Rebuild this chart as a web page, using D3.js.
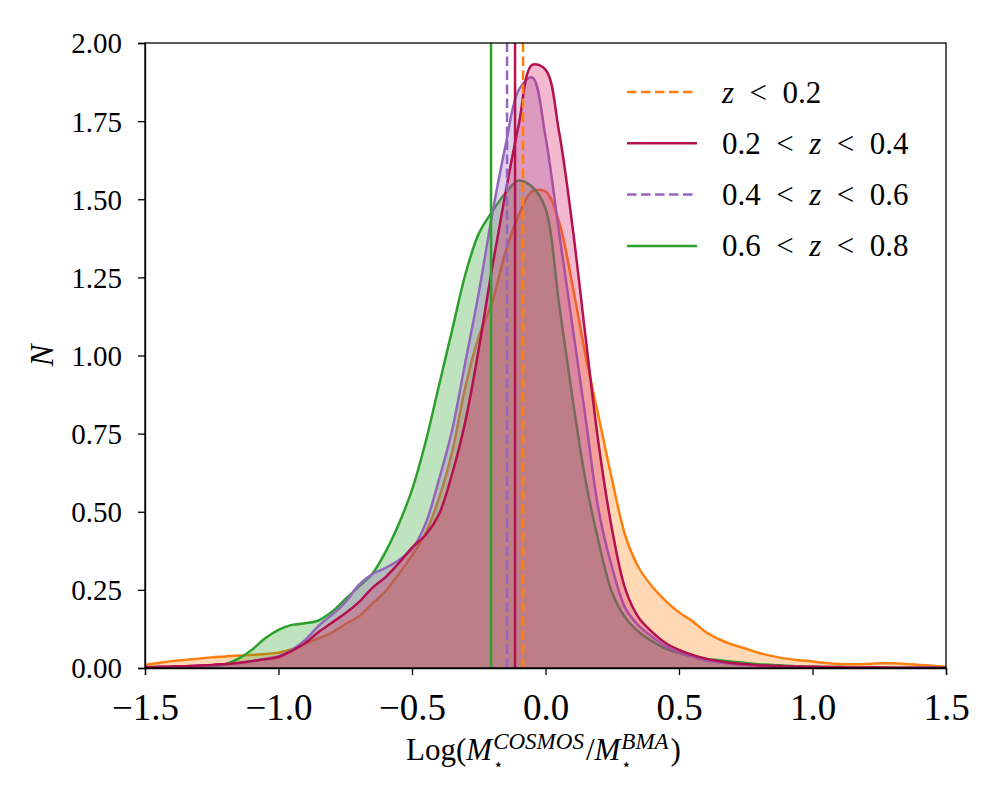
<!DOCTYPE html>
<html>
<head>
	<meta charset="utf-8">
	<title>KDE stellar mass comparison</title>
	<style type="text/css">
	body{ margin:0; background:#fff; }
	text{ font-family:"Liberation Serif", "DejaVu Serif", serif; fill:#000; }
	.domain{ stroke:#000; stroke-width:1.3; }
	.tick line{ stroke:#000; stroke-width:1.3; }
	</style>
	<script type="text/javascript" src="https://cdn.jsdelivr.net/npm/d3@7/dist/d3.min.js"></script>
</head>
<body>
<script type="text/javascript">
	var width = 1000, height = 800;
	var margin = {top:43, right:54, bottom:132, left:145};

	// shared x grid of the density curves
	var xGrid = d3.range(61).map(function(i){ return +(-1.5 + i*0.05).toFixed(2); });

	// density values, one per xGrid point
	var nLow = [0.010,0.016,0.022,0.026,0.030,0.034,0.037,0.040,0.042,0.045,
		0.049,0.060,0.077,0.095,0.113,0.140,0.165,0.205,0.245,0.300,
		0.360,0.430,0.540,0.690,0.900,1.060,1.170,1.330,1.450,1.525,
		1.525,1.430,1.230,1.000,0.800,0.600,0.420,0.320,0.260,0.215,
		0.178,0.150,0.115,0.092,0.075,0.062,0.048,0.038,0.030,0.025,
		0.021,0.016,0.013,0.012,0.013,0.015,0.015,0.013,0.010,0.007,0.004];
	var nMid1 = [0.003,0.004,0.005,0.006,0.008,0.010,0.013,0.016,0.022,0.028,
		0.035,0.055,0.080,0.115,0.145,0.175,0.210,0.255,0.290,0.335,
		0.385,0.425,0.490,0.620,0.790,1.020,1.280,1.520,1.740,1.930,
		1.915,1.720,1.420,1.060,0.710,0.440,0.250,0.160,0.115,0.080,
		0.058,0.042,0.030,0.022,0.016,0.012,0.009,0.007,0.006,0.005,
		0.004,0.003,0.003,0.002,0.002,0.002,0.001,0.001,0.001,0.001,0.001];
	var nMid2 = [0.002,0.003,0.004,0.005,0.007,0.009,0.012,0.016,0.022,0.030,
		0.038,0.058,0.090,0.135,0.170,0.210,0.265,0.300,0.320,0.345,
		0.380,0.460,0.600,0.760,0.980,1.200,1.450,1.670,1.850,1.890,
		1.700,1.400,1.100,0.800,0.500,0.320,0.190,0.135,0.100,0.070,
		0.050,0.036,0.025,0.018,0.013,0.010,0.008,0.006,0.005,0.004,
		0.003,0.003,0.002,0.002,0.002,0.001,0.001,0.001,0.001,0.001,0.001];
	var nHigh = [0.001,0.001,0.002,0.003,0.004,0.006,0.012,0.030,0.058,0.095,
		0.122,0.138,0.143,0.152,0.180,0.220,0.260,0.300,0.370,0.460,
		0.570,0.720,0.900,1.080,1.260,1.390,1.460,1.520,1.560,1.540,
		1.470,1.170,0.870,0.600,0.400,0.240,0.160,0.115,0.085,0.062,
		0.048,0.038,0.030,0.025,0.020,0.016,0.012,0.010,0.007,0.005,
		0.004,0.003,0.003,0.002,0.002,0.001,0.001,0.001,0.001,0.001,0.001];

	// vertical marker positions (median of each bin)
	var medians = [-0.084, -0.114, -0.144, -0.204];
	var labels = ["z < 0.2", "0.2 < z < 0.4", "0.4 < z < 0.6", "0.6 < z < 0.8"];

	var series = [
		{name:labels[0], values:nLow,  med:medians[0], line:"#ff7f0e", fill:"#ff7f0e", dash:true},
		{name:labels[1], values:nMid1, med:medians[1], line:"#b3124f", fill:"#d81b60", dash:false},
		{name:labels[2], values:nMid2, med:medians[2], line:"#9467bd", fill:"#9467bd", dash:true},
		{name:labels[3], values:nHigh, med:medians[3], line:"#2ca02c", fill:"#2ca02c", dash:false}
	];
	var drawOrder = [0, 3, 2, 1];

	var svg = d3.select("body").append("svg")
		.attr("width", width).attr("height", height);

	var w = width - margin.left - margin.right,
		h = height - margin.top - margin.bottom;

	var x = d3.scaleLinear().domain([-1.5, 1.5]).range([0, w]);
	var y = d3.scaleLinear().domain([0, 2]).range([h, 0]);

	var g = svg.append("g")
		.attr("transform", "translate(" + margin.left + "," + margin.top + ")");

	var area = d3.area()
		.x(function(d){ return x(d[0]); })
		.y0(y(0))
		.y1(function(d){ return y(d[1]); })
		.curve(d3.curveCatmullRom.alpha(0.5));
	var line = d3.line()
		.x(function(d){ return x(d[0]); })
		.y(function(d){ return y(d[1]); })
		.curve(d3.curveCatmullRom.alpha(0.5));

	var plot = g.append("g");
	drawOrder.forEach(function(k){
		var s = series[k];
		var pts = xGrid.map(function(v, i){ return [v, s.values[i]]; });
		plot.append("path").attr("d", area(pts))
			.style("fill", s.fill).style("fill-opacity", 0.3);
		plot.append("path").attr("d", line(pts))
			.style("fill", "none").style("stroke", s.line).style("stroke-width", 2.5);
	});

	// median lines
	g.append("g").selectAll("line")
		.data(series)
		.enter().append("line")
		.attr("x1", function(d){ return x(d.med); })
		.attr("x2", function(d){ return x(d.med); })
		.attr("y1", y(0)).attr("y2", y(2))
		.style("stroke", function(d){ return d.line; })
		.style("stroke-width", 2.5)
		.style("stroke-dasharray", function(d){ return d.dash ? "9.5,4.5" : null; });

	// frame
	g.append("rect").attr("width", w).attr("height", h)
		.style("fill", "none").style("stroke", "#000").style("stroke-width", 1.3);

	// axes
	var xAxis = g.append("g").attr("transform", "translate(0," + h + ")")
		.call(d3.axisBottom(x).tickValues([-1.5, -1, -0.5, 0, 0.5, 1, 1.5])
			.tickFormat(d3.format(".1f")).tickSize(7).tickPadding(19));
	xAxis.selectAll("text").style("font-size", "37px").attr("dy", "0.71em");

	var yAxis = g.append("g")
		.call(d3.axisLeft(y).tickValues(d3.range(0, 2.01, 0.25))
			.tickFormat(d3.format(".2f")).tickSize(7).tickPadding(16));
	yAxis.selectAll("text").style("font-size", "29px").attr("dy", "0.34em");

	// x title, pieces laid out one after another
	var titleParts = [
		{t:"Log(", s:31},
		{t:"M", s:31, i:true},
		{stack:[{t:"COSMOS", s:23, i:true, dy:-11}, {t:"\u22C6", s:17, dy:10}]},
		{t:"/", s:31},
		{t:"M", s:31, i:true},
		{stack:[{t:"BMA", s:23, i:true, dy:-11}, {t:"\u22C6", s:17, dy:10}]},
		{t:")", s:31}
	];
	var xt = svg.append("g");
	var cx = 0;
	function piece(p, px){
		var el = xt.append("text").attr("x", px).attr("y", p.dy || 0)
			.style("font-size", p.s + "px")
			.style("font-style", p.i ? "italic" : null)
			.text(p.t);
		return el.node().getComputedTextLength();
	}
	titleParts.forEach(function(p){
		if (p.stack){
			var wmax = 0;
			p.stack.forEach(function(q){ wmax = Math.max(wmax, piece(q, cx + 1)); });
			cx += wmax + 3;
		} else {
			cx += piece(p, cx);
		}
	});
	xt.attr("transform", "translate(" + (margin.left + w/2 - cx/2 - 2) + ",760)");

	svg.append("text")
		.attr("transform", "translate(53," + (margin.top + h/2) + ") rotate(-90)")
		.attr("text-anchor", "middle")
		.style("font-size", "33px").style("font-style", "italic")
		.text("N");

	// legend
	var legend = g.append("g").attr("transform", "translate(482,49)")
		.selectAll("g").data(series).enter().append("g")
		.attr("transform", function(d, i){ return "translate(0," + i*51.3 + ")"; });
	legend.append("line").attr("x1", 0).attr("x2", 70)
		.style("stroke", function(d){ return d.line; })
		.style("stroke-width", 2.5)
		.style("stroke-dasharray", function(d){ return d.dash ? "9.5,4.5" : null; });
	legend.append("text").attr("x", 95).attr("dy", "0.34em")
		.style("font-size", "31px")
		.each(function(d){
			var t = d3.select(this);
			d.name.split(" ").forEach(function(part, j){
				var txt = (j > 0 ? "\u2002" : "") + part;
				t.append("tspan").style("font-style", part === "z" ? "italic" : null).text(txt);
			});
		});
</script>
</body>
</html>
